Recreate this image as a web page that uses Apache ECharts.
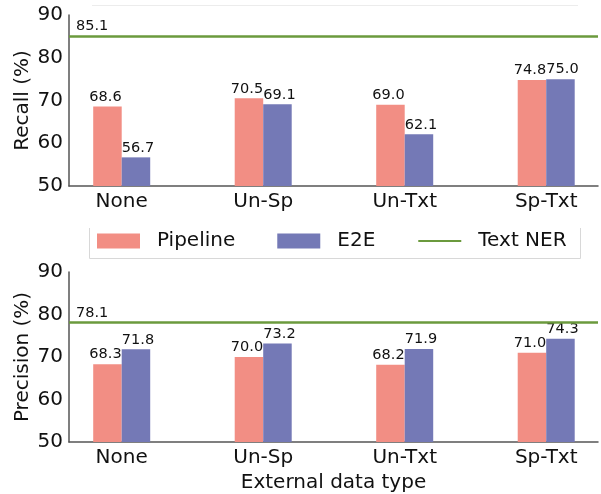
<!DOCTYPE html>
<html><head><meta charset="utf-8">
<script src="https://cdn.jsdelivr.net/npm/echarts@6/dist/echarts.min.js"></script>
<style>html,body{margin:0;padding:0;background:#fff}#c{width:601px;height:494px}</style>
</head><body><div id="c"></div>
<script>
const categories = ['None', 'Un-Sp', 'Un-Txt', 'Sp-Txt'];
const recallPipeline = [68.6, 70.5, 69.0, 74.8];
const recallE2E = [56.7, 69.1, 62.1, 75.0];
const recallTextNER = 85.1;
const precisionPipeline = [68.3, 70.0, 68.2, 71.0];
const precisionE2E = [71.8, 73.2, 71.9, 74.3];
const precisionTextNER = 78.1;
const yMin = 50, yMax = 90, yStep = 10;

const FONT = 'DejaVu Sans';
const C_PIPE = '#f28e84', C_E2E = '#7479b6', C_NER = '#6b9a3d';
const AX = '#555';

function xAx(gi, name) {
  return {
    type: 'value', gridIndex: gi, min: -0.3725, max: 3.366,
    splitLine: { show: false }, axisTick: { show: false },
    axisLine: { lineStyle: { color: AX, width: 1.5 } },
    axisLabel: {
      fontSize: 20, color: '#111', margin: 6, fontFamily: FONT,
      formatter: v => (Number.isInteger(v) && categories[v] !== undefined) ? categories[v] : ''
    },
    name: name, nameLocation: 'middle', nameGap: 31,
    nameTextStyle: { fontSize: 20, color: '#111', fontFamily: FONT }
  };
}
function yAx(gi, name) {
  return {
    type: 'value', gridIndex: gi, min: yMin, max: yMax, interval: yStep,
    splitLine: { show: false }, axisTick: { show: false },
    axisLine: { show: true, onZero: false, lineStyle: { color: AX, width: 1.5 } },
    axisLabel: { fontSize: 20, color: '#111', margin: 6, fontFamily: FONT },
    name: name, nameLocation: 'middle', nameGap: 36, nameMoveOverlap: false,
    nameTextStyle: { fontSize: 20, color: '#111', fontFamily: FONT }
  };
}
function bars(name, vals, gi, color, dx) {
  return {
    type: 'bar', name: name, xAxisIndex: gi, yAxisIndex: gi,
    data: vals.map((v, i) => [i, v]),
    barWidth: 28.5, barGap: '0%',
    itemStyle: { color: color },
    label: { show: true, position: 'top', distance: 2, offset: [dx, 0], fontSize: 14.5, color: '#111', fontFamily: FONT,
      formatter: p => p.value[1].toFixed(1) }
  };
}
function ner(val, gi) {
  return {
    type: 'line', name: 'Text NER', xAxisIndex: gi, yAxisIndex: gi, data: [],
    symbol: 'none', lineStyle: { color: C_NER, width: 2.5 }, itemStyle: { color: C_NER },
    markLine: {
      silent: true, symbol: ['none', 'none'],
      lineStyle: { color: C_NER, width: 2.5, type: 'solid' },
      label: { show: true, position: 'insideStartTop', distance: [7, 2], fontSize: 14.5, color: '#111', fontFamily: FONT,
        formatter: p => p.value.toFixed(1) },
      data: [{ yAxis: val }]
    }
  };
}

const chart = echarts.init(document.getElementById('c'), null, { renderer: 'canvas' });
chart.setOption({
  animation: false,
  backgroundColor: '#fff',
  textStyle: { fontFamily: FONT },
  grid: [
    { left: 69, right: 0, top: 15, height: 171 },
    { left: 69, right: 0, top: 272, height: 170 }
  ],
  xAxis: [xAx(0, ''), xAx(1, 'External data type')],
  yAxis: [yAx(0, 'Recall (%)'), yAx(1, 'Precision (%)')],
  legend: {
    left: 89, top: 225, padding: [6, 5, 6, 8],
    itemWidth: 43, itemHeight: 15, itemGap: 42,
    textStyle: { fontSize: 20, color: '#111', fontFamily: FONT, padding: [0, 0, 0, 12] },
    data: [
      { name: 'Pipeline', icon: 'rect' },
      { name: 'E2E', icon: 'rect' },
      { name: 'Text NER', itemStyle: { opacity: 0 } }
    ]
  },
  graphic: [
    { type: 'polyline', silent: true, shape: { points: [[89.5, 228], [89.5, 258.5], [580.5, 258.5], [580.5, 228]] },
      style: { stroke: '#d8d8d8', lineWidth: 1, fill: null } },
    { type: 'line', silent: true, shape: { x1: 92, y1: 5.5, x2: 578, y2: 5.5 }, style: { stroke: '#ececec', lineWidth: 1 } }
  ],
  series: [
    bars('Pipeline', recallPipeline, 0, C_PIPE, -2),
    bars('E2E', recallE2E, 0, C_E2E, 2),
    ner(recallTextNER, 0),
    bars('Pipeline', precisionPipeline, 1, C_PIPE, -2),
    bars('E2E', precisionE2E, 1, C_E2E, 2),
    ner(precisionTextNER, 1)
  ]
});
</script></body></html>
